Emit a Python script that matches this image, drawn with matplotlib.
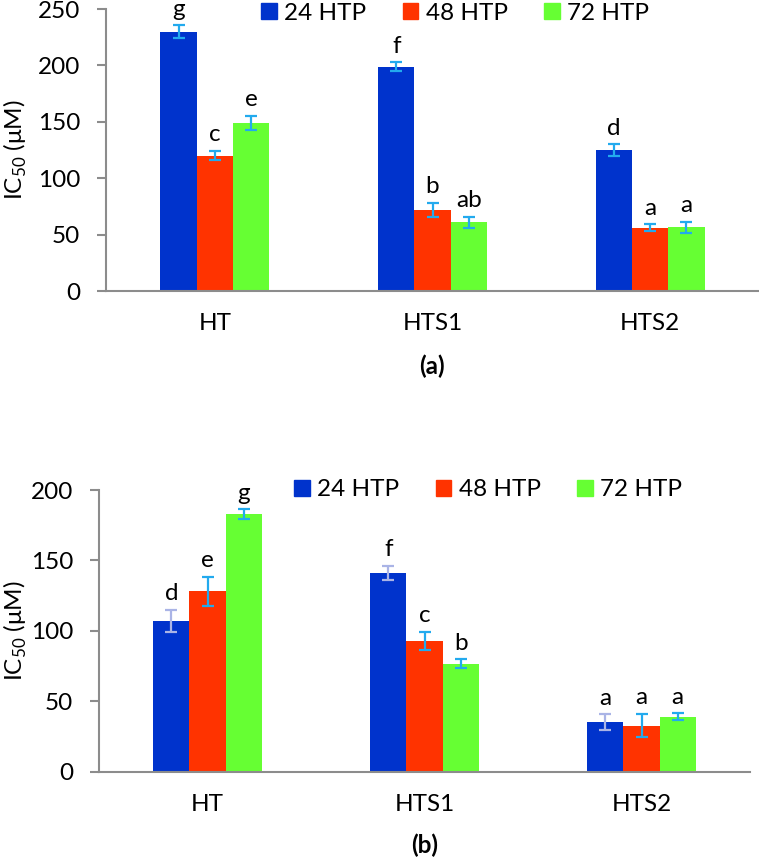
import numpy as np
import matplotlib
matplotlib.use('Agg')
import matplotlib.pyplot as plt
import matplotlib.transforms as mtransforms
from matplotlib.patches import Patch

plt.rcParams['font.family'] = ['Lato', 'DejaVu Sans']
plt.rcParams['mathtext.fontset'] = 'custom'
plt.rcParams['mathtext.rm'] = 'Lato'

# Data
groups = ['HT', 'HTS1', 'HTS2']
series = ['24 HTP', '48 HTP', '72 HTP']
colors = ['#0033CC', '#FF3300', '#66FF33']

# panel (a)
a_vals = [[230, 199, 125],
          [120, 72, 56],
          [149, 61, 56.5]]
a_err = [[5.5, 3.7, 5],
         [4, 6, 3],
         [6, 5, 4.7]]
a_letters = [['g', 'f', 'd'],
             ['c', 'b', 'a'],
             ['e', 'ab', 'a']]

# panel (b)
b_vals = [[107, 141, 35],
          [128, 93, 32.7],
          [183, 76.5, 39]]
b_err = [[7.7, 5, 5.7],
         [10.5, 6.3, 8.3],
         [3.3, 3.2, 2.4]]
b_letters = [['d', 'f', 'a'],
             ['e', 'c', 'a'],
             ['g', 'b', 'a']]

W, H = 759, 860
FS = 17.5
fig = plt.figure(figsize=(W / 100, H / 100), dpi=100)


def draw_panel(rect, vals, errs, letters, ymax, ystep, err_colors, tag, tag_y, leg_xy):
    ax = fig.add_axes(rect)
    x = np.arange(len(groups))
    w = 1 / 6
    for i in range(len(series)):
        xi = x + (i - 1) * w
        ax.bar(xi, vals[i], width=w, color=colors[i], zorder=2)
        ax.errorbar(xi, vals[i], yerr=errs[i], fmt='none', ecolor=err_colors[i],
                    elinewidth=1.6, capsize=4.5, capthick=1.6, zorder=3)
        for j in range(len(groups)):
            ax.annotate(letters[i][j], (xi[j], vals[i][j] + errs[i][j]),
                        xytext=(0, 7), textcoords='offset points',
                        ha='center', va='baseline', fontsize=FS)
    ax.set_xlim(-0.5, len(groups) - 0.5)
    ax.set_ylim(0, ymax)
    ax.set_yticks(np.arange(0, ymax + 1, ystep))
    ax.set_xticks(x)
    ax.set_xticklabels(groups)
    for s in ['top', 'right']:
        ax.spines[s].set_visible(False)
    for s in ['left', 'bottom']:
        ax.spines[s].set_color('#8C8C8C')
        ax.spines[s].set_linewidth(1.5)
    ax.tick_params(axis='y', length=6.5, width=1.5, color='#8C8C8C', pad=12, labelsize=FS)
    ax.tick_params(axis='x', length=0, pad=16, labelsize=FS)
    ax.set_ylabel('IC$_{\\mathrm{50}}$ (μM)', fontsize=FS)
    trans = mtransforms.blended_transform_factory(fig.transFigure, ax.transAxes)
    ax.yaxis.set_label_coords(29 / W, 0.5, transform=trans)
    fig.text(tag[1], tag_y, tag[0], ha='center', va='center', fontsize=FS, fontweight='bold')
    handles = [Patch(color=c, label=s) for c, s in zip(colors, series)]
    fig.legend(handles=handles, loc='center', bbox_to_anchor=leg_xy, ncol=3,
               frameon=False, fontsize=FS, handlelength=0.65, handleheight=0.65,
               handletextpad=0.3, columnspacing=1.5)
    return ax


cyan = '#22AAEE'
draw_panel([106 / W, 1 - 291 / H, 653 / W, 282 / H], a_vals, a_err, a_letters,
           250, 50, [cyan, cyan, cyan], ('(a)', 432 / W), 1 - 366 / H,
           (455 / W, 1 - 13 / H))
draw_panel([99 / W, 1 - 771.7 / H, 651 / W, 281.7 / H], b_vals, b_err, b_letters,
           200, 50, ['#AAB4E6', cyan, cyan], ('(b)', 425 / W), 1 - 845 / H,
           (488 / W, 1 - 490 / H))

fig.savefig('out.png', dpi=100)
